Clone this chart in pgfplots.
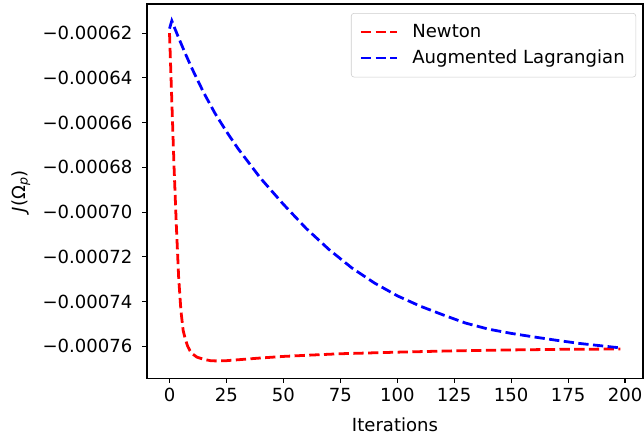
\documentclass[border=0pt]{standalone}
\usepackage{fontspec}
\setmainfont{DejaVu Sans}
\usepackage{pgfplots}
\pgfplotsset{compat=1.18}
\usepackage{pgfplotstable}

\pgfplotstableread{
x y
0 -0.000620
1 -0.000650
2 -0.000680
3 -0.000706
4 -0.000729
5 -0.000744
6 -0.000753
7 -0.000757
8 -0.000760
9 -0.000762
10 -0.0007633
12 -0.0007648
15 -0.0007658
18 -0.0007664
20 -0.0007665
25 -0.0007664
30 -0.0007660
40 -0.0007652
50 -0.0007645
60 -0.0007640
75 -0.0007633
100 -0.0007626
125 -0.0007620
150 -0.0007616
175 -0.0007613
198 -0.0007612
}\newton

\pgfplotstableread{
x y
0 -0.000618
1 -0.0006145
2 -0.0006171
4 -0.0006221
7 -0.0006293
10 -0.0006361
15 -0.0006466
20 -0.0006559
25 -0.0006640
30 -0.0006715
40 -0.0006849
50 -0.0006965
60 -0.0007073
70 -0.0007167
80 -0.0007249
90 -0.0007317
100 -0.0007374
110 -0.0007420
120 -0.0007459
130 -0.0007496
140 -0.0007523
150 -0.0007542
160 -0.0007558
170 -0.0007573
180 -0.0007587
190 -0.0007598
198 -0.0007607
}\auglag

\newcommand{\fs}{\fontsize{13}{15.6}\selectfont}

\begin{document}
\begin{tikzpicture}
\begin{axis}[
  scale only axis,
  width=357.1pt, height=269.3pt,
  xmin=-9.9, xmax=207.9,
  ymin=-0.0007742, ymax=-0.0006070,
  axis line style={line width=0.8pt},
  tick align=outside,
  xtick pos=bottom, ytick pos=left,
  major tick length=3.5pt,
  every tick/.style={line width=0.8pt, black},
  xtick={0,25,50,75,100,125,150,175,200},
  ytick={-0.00076,-0.00074,-0.00072,-0.00070,-0.00068,-0.00066,-0.00064,-0.00062},
  yticklabels={−0.00076,−0.00074,−0.00072,−0.00070,−0.00068,−0.00066,−0.00064,−0.00062},
  scaled y ticks=false,
  /pgf/number format/assume math mode=true,
  tick label style={font=\fs},
  yticklabel style={xshift=-3.5pt},
  label style={font=\fs},
  xlabel={Iterations},
  xlabel style={yshift=-5pt},
  ylabel={{\itshape J}(Ω\textsubscript{\itshape p})},
  ylabel style={yshift=2pt},
  legend style={at={(1,1)}, anchor=north east, xshift=-5pt, yshift=-6.5pt,
    draw=black!20, rounded corners=2pt, fill=white, fill opacity=0.8, text opacity=1,
    font=\fs, cells={anchor=west}, inner xsep=6pt, inner ysep=6pt, row sep=3.5pt,
    column sep=8pt},
  legend image code/.code={\draw[#1] (0pt,0pt) -- (26pt,0pt);},
]
\addplot[red, line width=2pt, dash pattern=on 7.4pt off 3.2pt] table[x=x,y=y] {\newton};
\addlegendentry{Newton}
\addplot[blue, line width=2pt, dash pattern=on 7.4pt off 3.2pt] table[x=x,y=y] {\auglag};
\addlegendentry{Augmented Lagrangian}
\end{axis}
\pgfresetboundingbox
\path[use as bounding box] ([shift={(-105.8pt,-41.8pt)}]current axis.south west) rectangle ([shift={(0.7pt,2.9pt)}]current axis.north east);
\end{tikzpicture}
\end{document}
